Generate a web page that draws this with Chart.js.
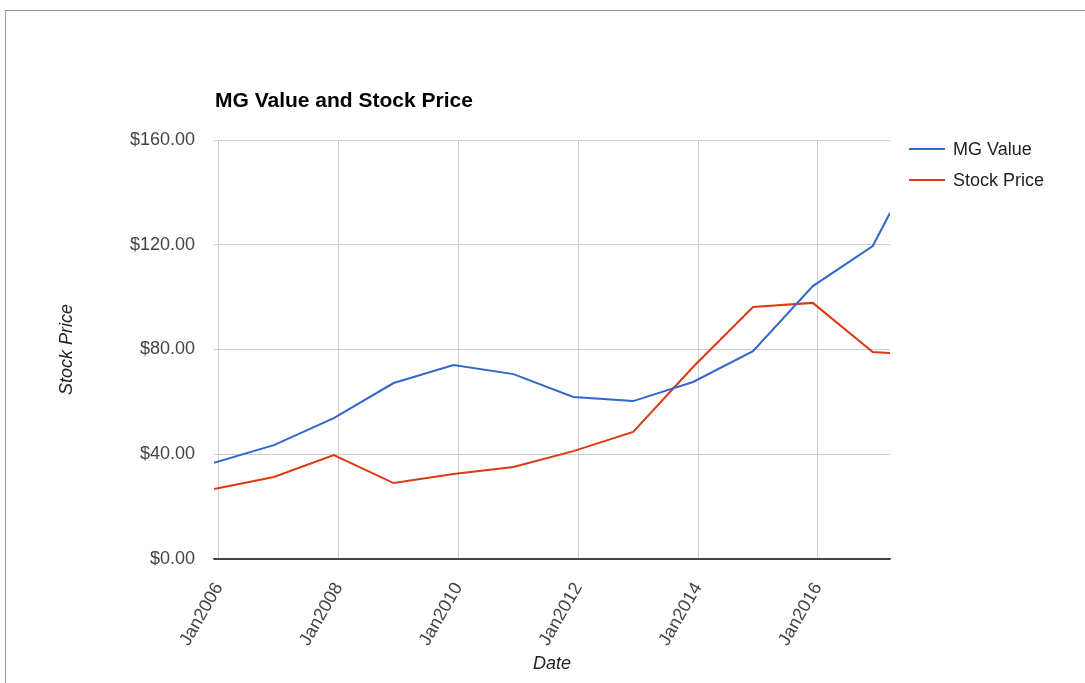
<!DOCTYPE html>
<html>
<head>
<meta charset="utf-8">
<title>MG Value and Stock Price</title>
<script src="https://cdn.jsdelivr.net/npm/chart.js@4.4.1/dist/chart.umd.min.js"></script>
<style>
	body { margin: 0; background: #fff; }
	#wrap { position: relative; width: 1085px; height: 683px; overflow: hidden; }
	#frame { position: absolute; left: 5px; top: 10px; right: -2px; bottom: -2px;
		border-top: 1px solid #9a9a9a; border-left: 1px solid #9a9a9a; }
	#myChart { position: absolute; left: 0; top: 0; }
</style>
</head>
<body>
<div id="wrap">
	<div id="frame"></div>
	<canvas id="myChart" width="1085" height="683"></canvas>
</div>
<script>
// yearly points
const dates = ['2005-12-01', '2006-12-01', '2007-12-01', '2008-12-01', '2009-12-01', '2010-12-01',
	'2011-12-01', '2012-12-01', '2013-12-01', '2014-12-01', '2015-12-01', '2016-12-01', '2017-03-15'];
const mgValue = [36.7, 43.5, 53.8, 67.2, 74.1, 70.6, 61.9, 60.3, 67.6, 79.4, 104.2, 119.5, 132.1];
const stockPrice = [26.7, 31.3, 39.7, 29.0, 32.5, 35.1, 41.2, 48.5, 73.3, 96.2, 97.8, 79.0, 78.7];
const xTickYears = [2006, 2008, 2010, 2012, 2014, 2016];
const yTicks = [0, 40, 80, 120, 160];
const seriesNames = ['MG Value', 'Stock Price'];
const chartTitle = 'MG Value and Stock Price';

const FONT = "'Liberation Sans', Arial, sans-serif";

function toYear(d){
	const p = d.split('-').map(Number);
	return p[0] + (p[1] - 1) / 12 + (p[2] - 1) / 365;
}

function toPoints(values){
	return values.map((v, i) => ({x: toYear(dates[i]), y: v}))
}

// title and legend drawn at fixed spots like the google chart
const headerLegend = {
	id: 'headerLegend',
	afterDraw(chart) {
		const ctx = chart.ctx;
		ctx.save();
		ctx.fillStyle = '#000';
		ctx.font = 'bold 21px ' + FONT;
		ctx.textBaseline = 'alphabetic';
		ctx.textAlign = 'left';
		ctx.fillText(chartTitle, 215, 107);

		ctx.font = '18px ' + FONT;
		ctx.textBaseline = 'middle';
		chart.data.datasets.forEach((ds, i) => {
			const y = 149 + i * 31;
			ctx.strokeStyle = ds.borderColor;
			ctx.lineWidth = 2;
			ctx.beginPath();
			ctx.moveTo(909, y);
			ctx.lineTo(945, y);
			ctx.stroke();
			ctx.fillStyle = '#222';
			ctx.fillText(ds.label, 953, y + 1);
		});
		ctx.restore();
	}
};

const ctx = document.getElementById('myChart').getContext('2d');
const myChart = new Chart(ctx, {
	type: 'line',
	data: {
		datasets: [{
			label: seriesNames[0],
			data: toPoints(mgValue),
			borderColor: '#3366cc',
			backgroundColor: '#3366cc',
			borderWidth: 2,
			pointRadius: 0,
			tension: 0
		}, {
			label: seriesNames[1],
			data: toPoints(stockPrice),
			borderColor: '#dc3912',
			backgroundColor: '#dc3912',
			borderWidth: 2,
			pointRadius: 0,
			tension: 0
		}]
	},
	options: {
		responsive: false,
		animation: false,
		layout: {
			padding: {left: 52, right: 195, top: 140, bottom: 4}
		},
		plugins: {
			legend: {display: false},
			title: {display: false},
			tooltip: {enabled: false}
		},
		scales: {
			x: {
				type: 'linear',
				min: toYear(dates[0]),
				max: toYear(dates[dates.length - 1]),
				afterBuildTicks: (scale) => {
					scale.ticks = xTickYears.map(v => ({value: v}));
				},
				afterFit: (scale) => { scale.height = 120; },
				grid: {color: '#cccccc', drawTicks: false},
				border: {color: '#444', width: 1.5},
				ticks: {
					autoSkip: false,
					minRotation: 60,
					maxRotation: 60,
					padding: 20,
					color: '#444',
					font: {family: FONT, size: 18},
					callback: (v) => 'Jan' + v
				},
				title: {
					display: true,
					text: 'Date',
					color: '#222',
					font: {family: FONT, size: 18, style: 'italic'}
				}
			},
			y: {
				min: 0,
				max: 160,
				afterBuildTicks: (scale) => {
					scale.ticks = yTicks.map(v => ({value: v}));
				},
				afterFit: (scale) => { scale.width = 162; },
				grid: {
					color: (c) => c.tick && c.tick.value === 0 ? '#444' : '#cccccc',
					drawTicks: false
				},
				border: {display: false},
				ticks: {
					padding: 19,
					color: '#444',
					font: {family: FONT, size: 18},
					callback: (v) => '$' + Number(v).toFixed(2)
				},
				title: {
					display: true,
					text: 'Stock Price',
					color: '#222',
					font: {family: FONT, size: 18, style: 'italic'}
				}
			}
		}
	},
	plugins: [headerLegend]
});
</script>
</body>
</html>
